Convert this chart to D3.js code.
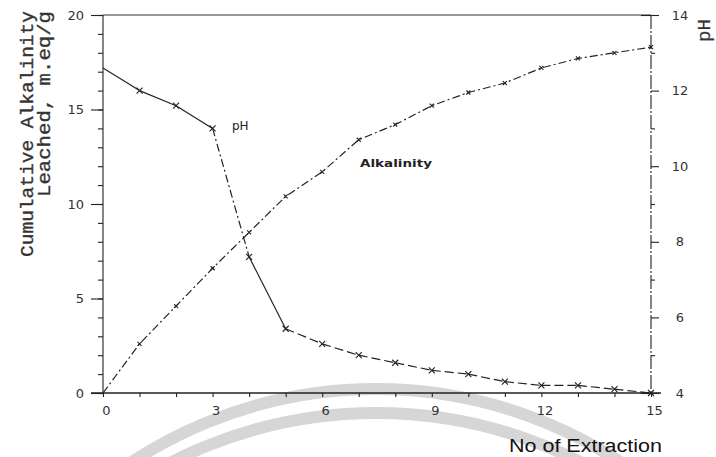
<!DOCTYPE html>
<html>
<head>
<meta charset="utf-8">
<script src="https://cdn.jsdelivr.net/npm/d3@7"></script>
<style>
  body { margin: 0; background: #fff; }
  svg { display: block; }
  .ax text { font-family: "DejaVu Sans", sans-serif; font-size: 13px; fill: #333; }
  .ax path, .ax line { stroke: #222; stroke-width: 1.1; }
  .ttl { font-family: "Liberation Mono", "DejaVu Sans Mono", monospace; fill: #333; stroke: #333; stroke-width: 0.35; }
</style>
</head>
<body>
<div id="chart"></div>
<script>
// number of extraction
var extraction = [0, 1, 2, 3, 4, 5, 6, 7, 8, 9, 10, 11, 12, 13, 14, 15];
// cumulative alkalinity leached, meq/g (left axis)
var alkalinity = [0, 2.6, 4.6, 6.6, 8.5, 10.4, 11.7, 13.4, 14.2, 15.2, 15.9, 16.4, 17.2, 17.7, 18.0, 18.3];
// pH of leachate (right axis)
var ph = [12.6, 12.0, 11.6, 11.0, 7.6, 5.7, 5.3, 5.0, 4.8, 4.6, 4.5, 4.3, 4.2, 4.2, 4.1, 4.0];

var xTicks = [0, 3, 6, 9, 12, 15];
var leftTicks = [0, 5, 10, 15, 20];
var rightTicks = [4, 6, 8, 10, 12, 14];

var width = 716, height = 457;
var x0 = 103, x1 = 651, yTop = 15, yBot = 393;

var svg = d3.select('#chart').append('svg')
  .attr('width', width)
  .attr('height', height);

// faint watermark arcs behind the plot
var wm = svg.append('g').attr('fill', 'none').attr('stroke', '#d6d6d6').attr('stroke-width', 12);
wm.append('path').attr('d', d3.arc()({innerRadius: 445, outerRadius: 445, startAngle: -0.75, endAngle: 0.75}))
  .attr('transform', 'translate(376,834)');
wm.append('path').attr('d', d3.arc()({innerRadius: 450, outerRadius: 450, startAngle: -0.75, endAngle: 0.75}))
  .attr('transform', 'translate(376,863)');

var x = d3.scaleLinear().domain([0, 15]).range([x0, x1]);
var yL = d3.scaleLinear().domain([0, 20]).range([yBot, yTop]);
var yR = d3.scaleLinear().domain([4, 14]).range([yBot, yTop]);

// top frame line
svg.append('line')
  .attr('x1', x0).attr('x2', x1).attr('y1', yTop).attr('y2', yTop)
  .attr('stroke', '#333').attr('stroke-width', 1);

// bottom axis
var gx = svg.append('g').attr('class', 'ax').attr('transform', 'translate(0,' + yBot + ')')
  .call(d3.axisBottom(x).tickValues(d3.range(0, 16)).tickSize(4).tickFormat(''));
gx.select('.domain').remove();
svg.append('line').attr('x1', 91).attr('x2', 661).attr('y1', yBot).attr('y2', yBot)
  .attr('stroke', '#222').attr('stroke-width', 1.3);
var gx2 = svg.append('g').attr('class', 'ax').attr('transform', 'translate(0,' + yBot + ')')
  .call(d3.axisBottom(x).tickValues(xTicks).tickSize(0).tickPadding(13));
gx2.select('.domain').remove();
gx2.selectAll('text').attr('dx', 3);

// left axis
var gl = svg.append('g').attr('class', 'ax').attr('transform', 'translate(' + x0 + ',0)')
  .call(d3.axisLeft(yL).tickValues(d3.range(0, 21)).tickSize(5).tickFormat(''));
gl.select('.domain').attr('d', 'M0,' + yTop + 'V' + yBot);
var gl2 = svg.append('g').attr('class', 'ax').attr('transform', 'translate(' + x0 + ',0)')
  .call(d3.axisLeft(yL).tickValues(leftTicks).tickSize(12).tickPadding(7));
gl2.select('.domain').remove();

// right axis
var gr = svg.append('g').attr('class', 'ax').attr('transform', 'translate(' + x1 + ',0)')
  .call(d3.axisRight(yR).tickValues(d3.range(5, 14, 2)).tickSize(4).tickFormat(''));
gr.select('.domain').attr('d', 'M0,' + yTop + 'V' + yBot).attr('stroke-dasharray', '14,2,2,2');
var gr2 = svg.append('g').attr('class', 'ax').attr('transform', 'translate(' + x1 + ',0)')
  .call(d3.axisRight(yR).tickValues(rightTicks).tickSize(8).tickPadding(21));
gr2.select('.domain').remove();
gr2.selectAll('text').attr('text-anchor', 'middle');
gr2.selectAll('line').attr('x1', function(d) { return (d === 4 || d === 14) ? -10 : 0; });

// alkalinity curve, dash-dot
var alk = extraction.map(function(e, i) { return [e, alkalinity[i]]; });
var lineL = d3.line().x(function(d) { return x(d[0]); }).y(function(d) { return yL(d[1]); });
svg.append('path').datum(alk).attr('d', lineL)
  .attr('fill', 'none').attr('stroke', '#222').attr('stroke-width', 1.2)
  .attr('stroke-dasharray', '8,3,2,3');

// pH curve, drawn piece by piece
var phPts = extraction.map(function(e, i) { return [e, ph[i]]; });
var lineR = d3.line().x(function(d) { return x(d[0]); }).y(function(d) { return yR(d[1]); });
svg.append('g').selectAll('path')
  .data(d3.pairs(phPts))
  .enter().append('path')
  .attr('d', lineR)
  .attr('fill', 'none').attr('stroke', '#222').attr('stroke-width', 1.2)
  .attr('stroke-dasharray', function(d, i) {
    if (i === 3) return '8,3,2,3';
    if (i >= 5) return '9,4';
    return null;
  });

// markers
var cross = function(sel, px, py, r) {
  sel.append('path')
    .attr('d', function(d) {
      var cx = px(d), cy = py(d);
      return 'M' + (cx - r) + ',' + (cy - r) + 'L' + (cx + r) + ',' + (cy + r) +
             'M' + (cx - r) + ',' + (cy + r) + 'L' + (cx + r) + ',' + (cy - r);
    })
    .attr('stroke', '#222').attr('stroke-width', 1.1);
};
cross(svg.append('g').selectAll('g').data(phPts.slice(1)).enter().append('g'),
  function(d) { return x(d[0]); }, function(d) { return yR(d[1]); }, 3);
cross(svg.append('g').selectAll('g').data(alk.slice(1)).enter().append('g'),
  function(d) { return x(d[0]); }, function(d) { return yL(d[1]); }, 2);

// curve labels
svg.append('text').attr('x', 232).attr('y', 130)
  .style('font-family', '"DejaVu Sans", sans-serif').style('font-size', '12px').attr('fill', '#222')
  .text('pH');
svg.append('text').attr('x', 360).attr('y', 167)
  .style('font-family', '"DejaVu Sans", sans-serif').style('font-size', '11px').style('font-weight', 'bold')
  .attr('fill', '#222').attr('textLength', 72).attr('lengthAdjust', 'spacingAndGlyphs')
  .text('Alkalinity');

// axis titles
svg.append('text').attr('class', 'ttl')
  .attr('transform', 'translate(33,257) rotate(-90)')
  .style('font-size', '19px')
  .attr('textLength', 246).attr('lengthAdjust', 'spacingAndGlyphs')
  .text('Cumulative Alkalinity');
svg.append('text').attr('class', 'ttl')
  .attr('transform', 'translate(50,197) rotate(-90)')
  .style('font-size', '19px')
  .attr('textLength', 186).attr('lengthAdjust', 'spacingAndGlyphs')
  .text('Leached, m.eq/g');
svg.append('text').attr('class', 'ttl')
  .attr('transform', 'translate(710,42) rotate(-90)')
  .style('font-size', '19px').style('stroke-width', '0.2')
  .text('pH');
svg.append('text').attr('x', 509).attr('y', 452)
  .style('font-family', '"Liberation Sans", Arial, sans-serif').style('font-size', '18px').attr('fill', '#111')
  .attr('textLength', 153).attr('lengthAdjust', 'spacingAndGlyphs')
  .text('No of Extraction');
</script>
</body>
</html>
